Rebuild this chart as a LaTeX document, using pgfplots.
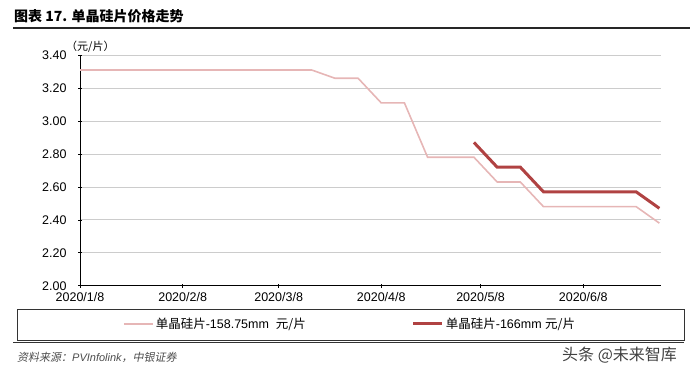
\documentclass[border=0pt]{standalone}
\usepackage{fontspec}
\setmainfont{Liberation Sans}
\newfontfamily\cjk{Noto Sans CJK SC}
\newfontfamily\cjkit[FakeSlant=0.2]{Noto Sans CJK SC}
\usepackage{pgfplots}
\pgfplotsset{compat=1.18}
\definecolor{lightred}{RGB}{230,182,182}
\definecolor{darkred}{RGB}{176,66,66}
\begin{document}
\begin{tikzpicture}[x=1pt,y=1pt]
\path[use as bounding box] (0,0) rectangle (700,374);
\node[anchor=west, font=\cjk\bfseries\fontsize{14}{16}\selectfont, inner sep=0] at (14,358) {图表 17. 单晶硅片价格走势};
\draw[line width=1.2pt, black!85] (13,346) -- (690,346);
\begin{axis}[
  scale only axis, width=581pt, height=230.5pt,
  at={(80pt,88.3pt)}, anchor=south west,
  xmin=0, xmax=175.5, ymin=2, ymax=3.4,
  axis x line*=bottom, axis y line*=left,
  axis line style={-, black, line width=0.8pt},
  xtick={0,31,60,91,121,152},
  xticklabels={2020/1/8,2020/2/8,2020/3/8,2020/4/8,2020/5/8,2020/6/8},
  ytick={2,2.2,2.4,2.6,2.8,3,3.2,3.4},
  yticklabel style={/pgf/number format/.cd, fixed, fixed zerofill, precision=2, /tikz/.cd, xshift=-8pt},
  xticklabel style={yshift=-1.5pt},
  /pgf/number format/assume math mode=true,
  tick label style={font=\fontsize{12.5}{14}\selectfont},
  ymajorgrids, major grid style={gray!40, line width=0.7pt},
  major tick length=4pt, tick align=center, tick style={black, line width=0.6pt},
  legend columns=2,
  legend cell align=left,
  legend style={draw=none, fill=none, at={(axis description cs:0.074,-0.166)}, anchor=west, inner sep=0pt,
    font=\fontsize{12.5}{14}\selectfont, /tikz/every even column/.append style={column sep=104pt}},
  legend image code/.code={\draw[#1] (0pt,0pt) -- (29pt,0pt);},
]
\addplot[lightred, line width=1.6pt] coordinates {
(0,3.31) (7,3.31) (14,3.31) (21,3.31) (28,3.31) (35,3.31) (42,3.31) (49,3.31) (56,3.31) (63,3.31) (70,3.31)
(77,3.26) (84,3.26) (91,3.11) (98,3.11) (105,2.78) (112,2.78) (119,2.78) (126,2.63) (133,2.63)
(140,2.48) (147,2.48) (154,2.48) (161,2.48) (168,2.48) (175,2.38)};
\addlegendentry{{\cjk 单晶硅片}-158.75mm\ \ {\cjk 元/片}}
\addplot[darkred, line width=3pt] coordinates {
(119,2.87) (126,2.72) (133,2.72) (140,2.57) (147,2.57) (154,2.57) (161,2.57) (168,2.57) (175,2.47)};
\addlegendentry{{\cjk 单晶硅片}-166mm {\cjk 元/片}}
\end{axis}
\node[anchor=west, font=\cjk\fontsize{11}{12}\selectfont, inner sep=0] at (66,327) {（元/片）};
\draw[black!80, line width=0.8pt] (17,34) rectangle (684,65);
\draw[black!80, line width=1pt] (13,31) -- (684,31);
\node[anchor=west, inner sep=0, font=\fontsize{11}{13}\selectfont, text=black!70] at (17,17) {{\cjkit 资料来源：}\itshape PVInfolink{\cjkit ，中银证券}};
\node[anchor=west, inner sep=0, font=\cjk\fontsize{16}{18}\selectfont, text=black!75] at (562,19) {头条 @未来智库};
\end{tikzpicture}
\end{document}
